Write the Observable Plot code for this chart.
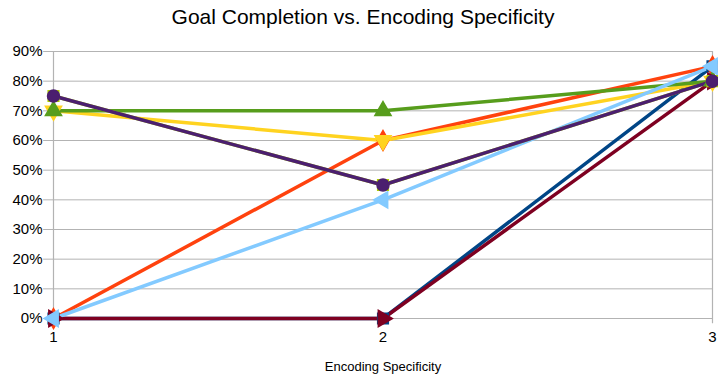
<!DOCTYPE html>
<html>
<head>
<meta charset="utf-8">
<script src="https://cdn.jsdelivr.net/npm/d3@7"></script>
<script src="https://cdn.jsdelivr.net/npm/@observablehq/plot@0.6"></script>
<style>
  body { margin: 0; background: #fff; font-family: "Liberation Sans", Arial, sans-serif; }
  #title { height: 35px; line-height: 34px; text-align: center; font-size: 21px; color: #000; padding-left: 8px; }
</style>
</head>
<body>
<div id="title">Goal Completion vs. Encoding Specificity</div>
<div id="chart"></div>
<script>
const xValues = [1, 2, 3];
const xTickLabels = ["1", "2", "3"];
const yTicks = [0, 0.1, 0.2, 0.3, 0.4, 0.5, 0.6, 0.7, 0.8, 0.9];
const seriesNames = ["Series 1", "Series 2", "Series 3", "Series 4", "Series 5", "Series 6", "Series 8", "Series 9"];
const seriesColors = ["#004586", "#ff420e", "#ffd320", "#579d1c", "#7e0021", "#83caff", "#aecf00", "#4b1f6f"];
const seriesSymbols = ["square", "diamond", "triangle", "triangle", "triangle", "triangle", "square", "circle"];
const seriesRotate = [0, 0, 180, 0, 90, -90, 0, 0];
const s1 = [0, 0, 0.85];
const s2 = [0, 0.60, 0.85];
const s3 = [0.70, 0.60, 0.80];
const s4 = [0.70, 0.70, 0.80];
const s5 = [0, 0, 0.80];
const s6 = [0, 0.40, 0.85];
const s8 = [0.75, 0.45, 0.80];
const s9 = [0.75, 0.45, 0.80];
const seriesValues = [s1, s2, s3, s4, s5, s6, s8, s9];

const rows = [];
seriesNames.forEach((name, i) => {
  seriesValues[i].forEach((v, j) => {
    rows.push({series: name, x: xValues[j], y: v, symbol: seriesSymbols[i], rotate: seriesRotate[i]});
  });
});

const pct = d => Math.round(d * 100) + "%";
const chart = Plot.plot({
  width: 718,
  height: 339,
  marginLeft: 53,
  marginRight: 6,
  marginTop: 16,
  marginBottom: 56,
  style: {fontFamily: "Liberation Sans, Arial, sans-serif", fontSize: "14px", color: "#000", background: "#fff"},
  x: {domain: [1, 3], label: null},
  y: {domain: [0, 0.9], label: null},
  color: {domain: seriesNames, range: seriesColors},
  symbol: {type: "identity"},
  marks: [
    Plot.ruleY(yTicks, {x1: 0.97, x2: 3, stroke: "#b3b3b3", strokeWidth: 1}),
    Plot.ruleX([1, 3], {y1: -0.018, y2: 0.9, stroke: "#b3b3b3", strokeWidth: 1.2}),
    Plot.axisY({ticks: yTicks, tickSize: 0, tickPadding: 11, tickFormat: pct, fontSize: 15, label: null}),
    Plot.axisX({ticks: xValues, tickSize: 0, tickPadding: 13, tickFormat: d => xTickLabels[xValues.indexOf(d)], fontSize: 15, label: null}),
    Plot.text(["Encoding Specificity"], {frameAnchor: "bottom", dy: 52, fontSize: 13, fill: "#000"}),
    Plot.line(rows, {x: "x", y: "y", z: "series", stroke: "series", strokeWidth: 3.5, strokeLinejoin: "round"}),
    Plot.dot(rows, {x: "x", y: "y", fill: "series", stroke: "series", symbol: "symbol", rotate: "rotate", r: 6})
  ]
});
document.getElementById("chart").appendChild(chart);
</script>
</body>
</html>
